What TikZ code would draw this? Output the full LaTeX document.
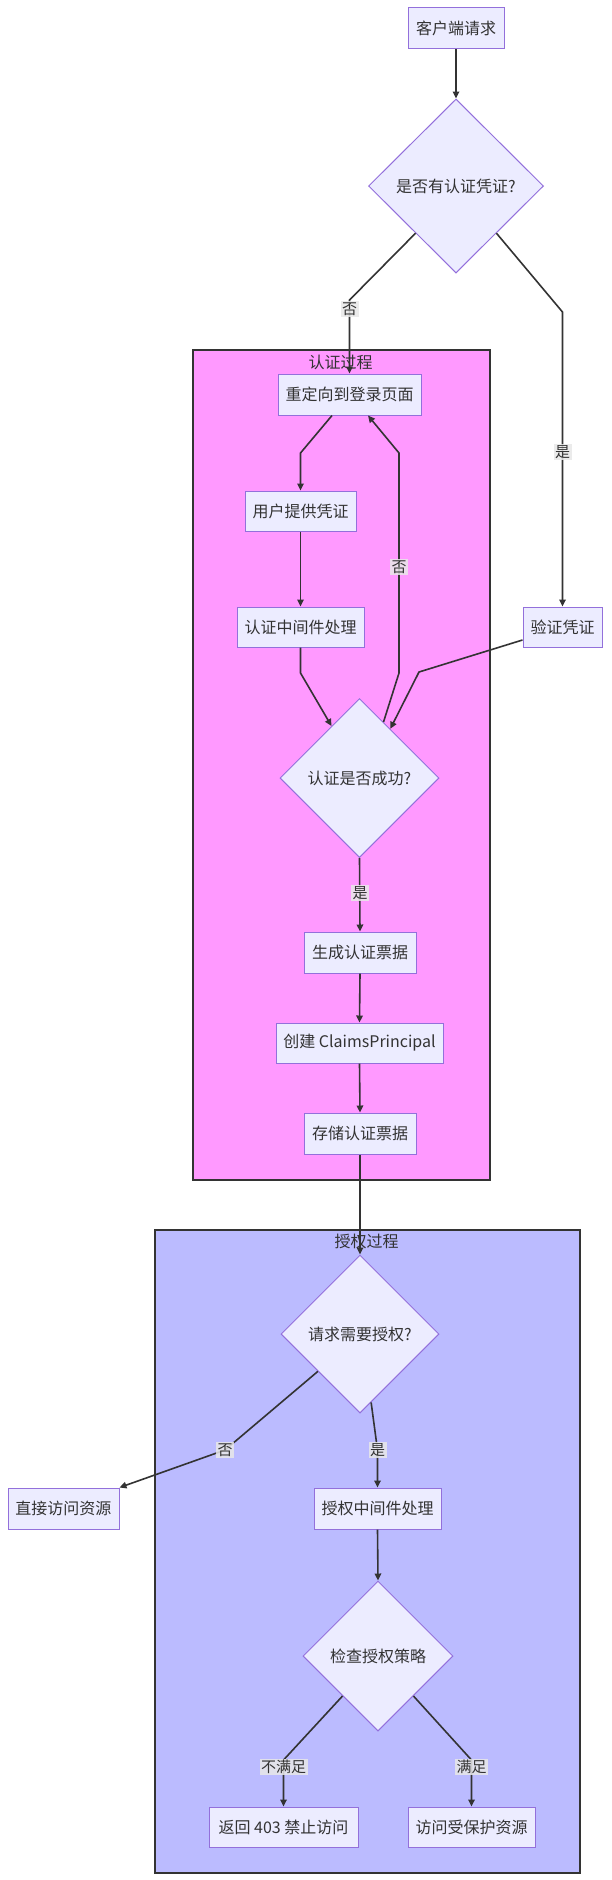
\documentclass[tikz,border=0pt]{standalone}
\usepackage{fontspec}
\setmainfont{Noto Sans CJK SC}
\usetikzlibrary{shapes.geometric,arrows.meta,calc}
\definecolor{nodefill}{HTML}{ECECFF}
\definecolor{nodeline}{HTML}{9370DB}
\definecolor{edgecol}{HTML}{333333}
\definecolor{txt}{HTML}{333333}
\definecolor{authbg}{HTML}{FF99FF}
\definecolor{authzbg}{HTML}{BBBBFF}
\definecolor{clusterline}{HTML}{333333}
\definecolor{lblbg}{HTML}{E8E8E8}
\begin{document}
\begin{tikzpicture}[x=1pt,y=-1pt,
  box/.style={draw=nodeline, fill=nodefill, line width=1pt, text=txt,
    font=\fontsize{16}{19}\selectfont, inner xsep=4pt, inner ysep=0pt, minimum height=41pt},
  dec/.style={draw=nodeline, fill=nodefill, line width=1pt, text=txt,
    font=\fontsize{16}{19}\selectfont, shape=diamond, inner sep=0pt},
  cluster/.style={draw=clusterline, line width=1.6pt, anchor=north west, inner sep=0pt},
  ctitle/.style={text=txt, font=\fontsize{16}{19}\selectfont, inner sep=0pt},
  flow/.style={draw=edgecol, line width=1.6pt, -{Triangle[length=7pt,width=6.5pt]}},
  elabel/.style={fill=lblbg, fill opacity=0.85, text opacity=1, text=txt,
    font=\fontsize{15}{18}\selectfont, inner sep=1.5pt},
]
\useasboundingbox (0,0) rectangle (611,1880);
\fill[white] (0,0) rectangle (611,1880);

% clusters
\node[cluster, fill=authbg, minimum width=297pt, minimum height=830pt] (auth) at (192,349) {};
\node[ctitle] (authT) at (340.5,362) {认证过程};
\node[cluster, fill=authzbg, minimum width=425pt, minimum height=643pt] (authz) at (154,1229) {};
\node[ctitle] (authzT) at (366.5,1241) {授权过程};

% nodes
\node[box, minimum width=96pt] (A) at (456,28) {客户端请求};
\node[dec, minimum width=175pt, minimum height=174pt] (B) at (456,186) {是否有认证凭证?};
\node[box, minimum width=143pt] (C) at (349.5,394.5) {重定向到登录页面};
\node[box, minimum width=111pt, minimum height=40pt] (D) at (300.5,511) {用户提供凭证};
\node[box, minimum width=127pt, minimum height=40pt] (E) at (300.5,627) {认证中间件处理};
\node[box, minimum width=79pt, minimum height=40pt] (F) at (562.5,627) {验证凭证};
\node[dec, minimum width=159pt, minimum height=159pt] (G) at (359.5,778) {认证是否成功?};
\node[box, minimum width=112pt] (H) at (360,952.5) {生成认证票据};
\node[box, minimum width=167pt, minimum height=40pt] (I) at (359.5,1043) {创建 ClaimsPrincipal};
\node[box, minimum width=112pt] (J) at (360,1133.5) {存储认证票据};
\node[dec, minimum width=158pt, minimum height=158pt] (K) at (360,1334) {请求需要授权?};
\node[box, minimum width=111pt] (L) at (63.5,1508.5) {直接访问资源};
\node[box, minimum width=127pt] (M) at (377.5,1508.5) {授权中间件处理};
\node[dec, minimum width=150pt, minimum height=150pt] (N) at (378,1656) {检查授权策略};
\node[box, minimum width=149pt, minimum height=40pt] (O) at (283.5,1827) {返回 403 禁止访问};
\node[box, minimum width=127pt, minimum height=40pt] (P) at (471.5,1827) {访问受保护资源};

% bend coordinates
\coordinate (bC) at (349.5,300);
\coordinate (bF) at (562.5,312);
\coordinate (bD) at (300.5,453);
\coordinate (bE) at (300.5,673);
\coordinate (bG1) at (399,673);
\coordinate (bG2) at (399,453);
\coordinate (bFG) at (419,672);
\coordinate (bL) at (225,1450);
\coordinate (bM) at (377.5,1450);
\coordinate (bO) at (283.5,1760);
\coordinate (bP) at (471.5,1760);

% edges
\draw[flow] (A.south) -- (B.north);
\draw[flow] ($(B.west)!0.54!(B.south)$) -- (bC) -- (C.north);
\draw[flow] ($(B.east)!0.54!(B.south)$) -- (bF) -- (F.north);
\draw[flow] ([xshift=-17.5pt]C.south) -- (bD) -- (D.north);
\draw[flow] (D.south) -- (E.north);
\draw[flow] (E.south) -- (bE) -- ($(G.north)!0.35!(G.west)$);
\draw[flow] ($(G.north)!0.3!(G.east)$) -- (bG1) -- (bG2) -- ([xshift=18.5pt]C.south);
\draw[flow] ([yshift=-13pt]F.west) -- (bFG) -- ($(G.north)!0.385!(G.east)$);
\draw[flow] (G.south) -- (H.north);
\draw[flow] (H.south) -- (I.north);
\draw[flow] (I.south) -- (J.north);
\draw[flow] (J.south) -- (K.north);
\draw[flow] ($(K.west)!0.47!(K.south)$) -- (bL) -- (L.north east);
\draw[flow] ($(K.south)!0.14!(K.east)$) -- (bM) -- (M.north);
\draw[flow] (M.south) -- (N.north);
\draw[flow] ($(N.west)!0.53!(N.south)$) -- (bO) -- (O.north);
\draw[flow] ($(N.east)!0.53!(N.south)$) -- (bP) -- (P.north);

% edge labels
\node[elabel] (l1) at (349.5,309) {否};
\node[elabel] (l2) at (562.5,452) {是};
\node[elabel] (l3) at (399,567) {否};
\node[elabel] (l4) at (360,893) {是};
\node[elabel] (l5) at (225,1450) {否};
\node[elabel] (l6) at (377.5,1450) {是};
\node[elabel] (l7) at (283.5,1767) {不满足};
\node[elabel] (l8) at (471.5,1767) {满足};
\end{tikzpicture}
\end{document}
